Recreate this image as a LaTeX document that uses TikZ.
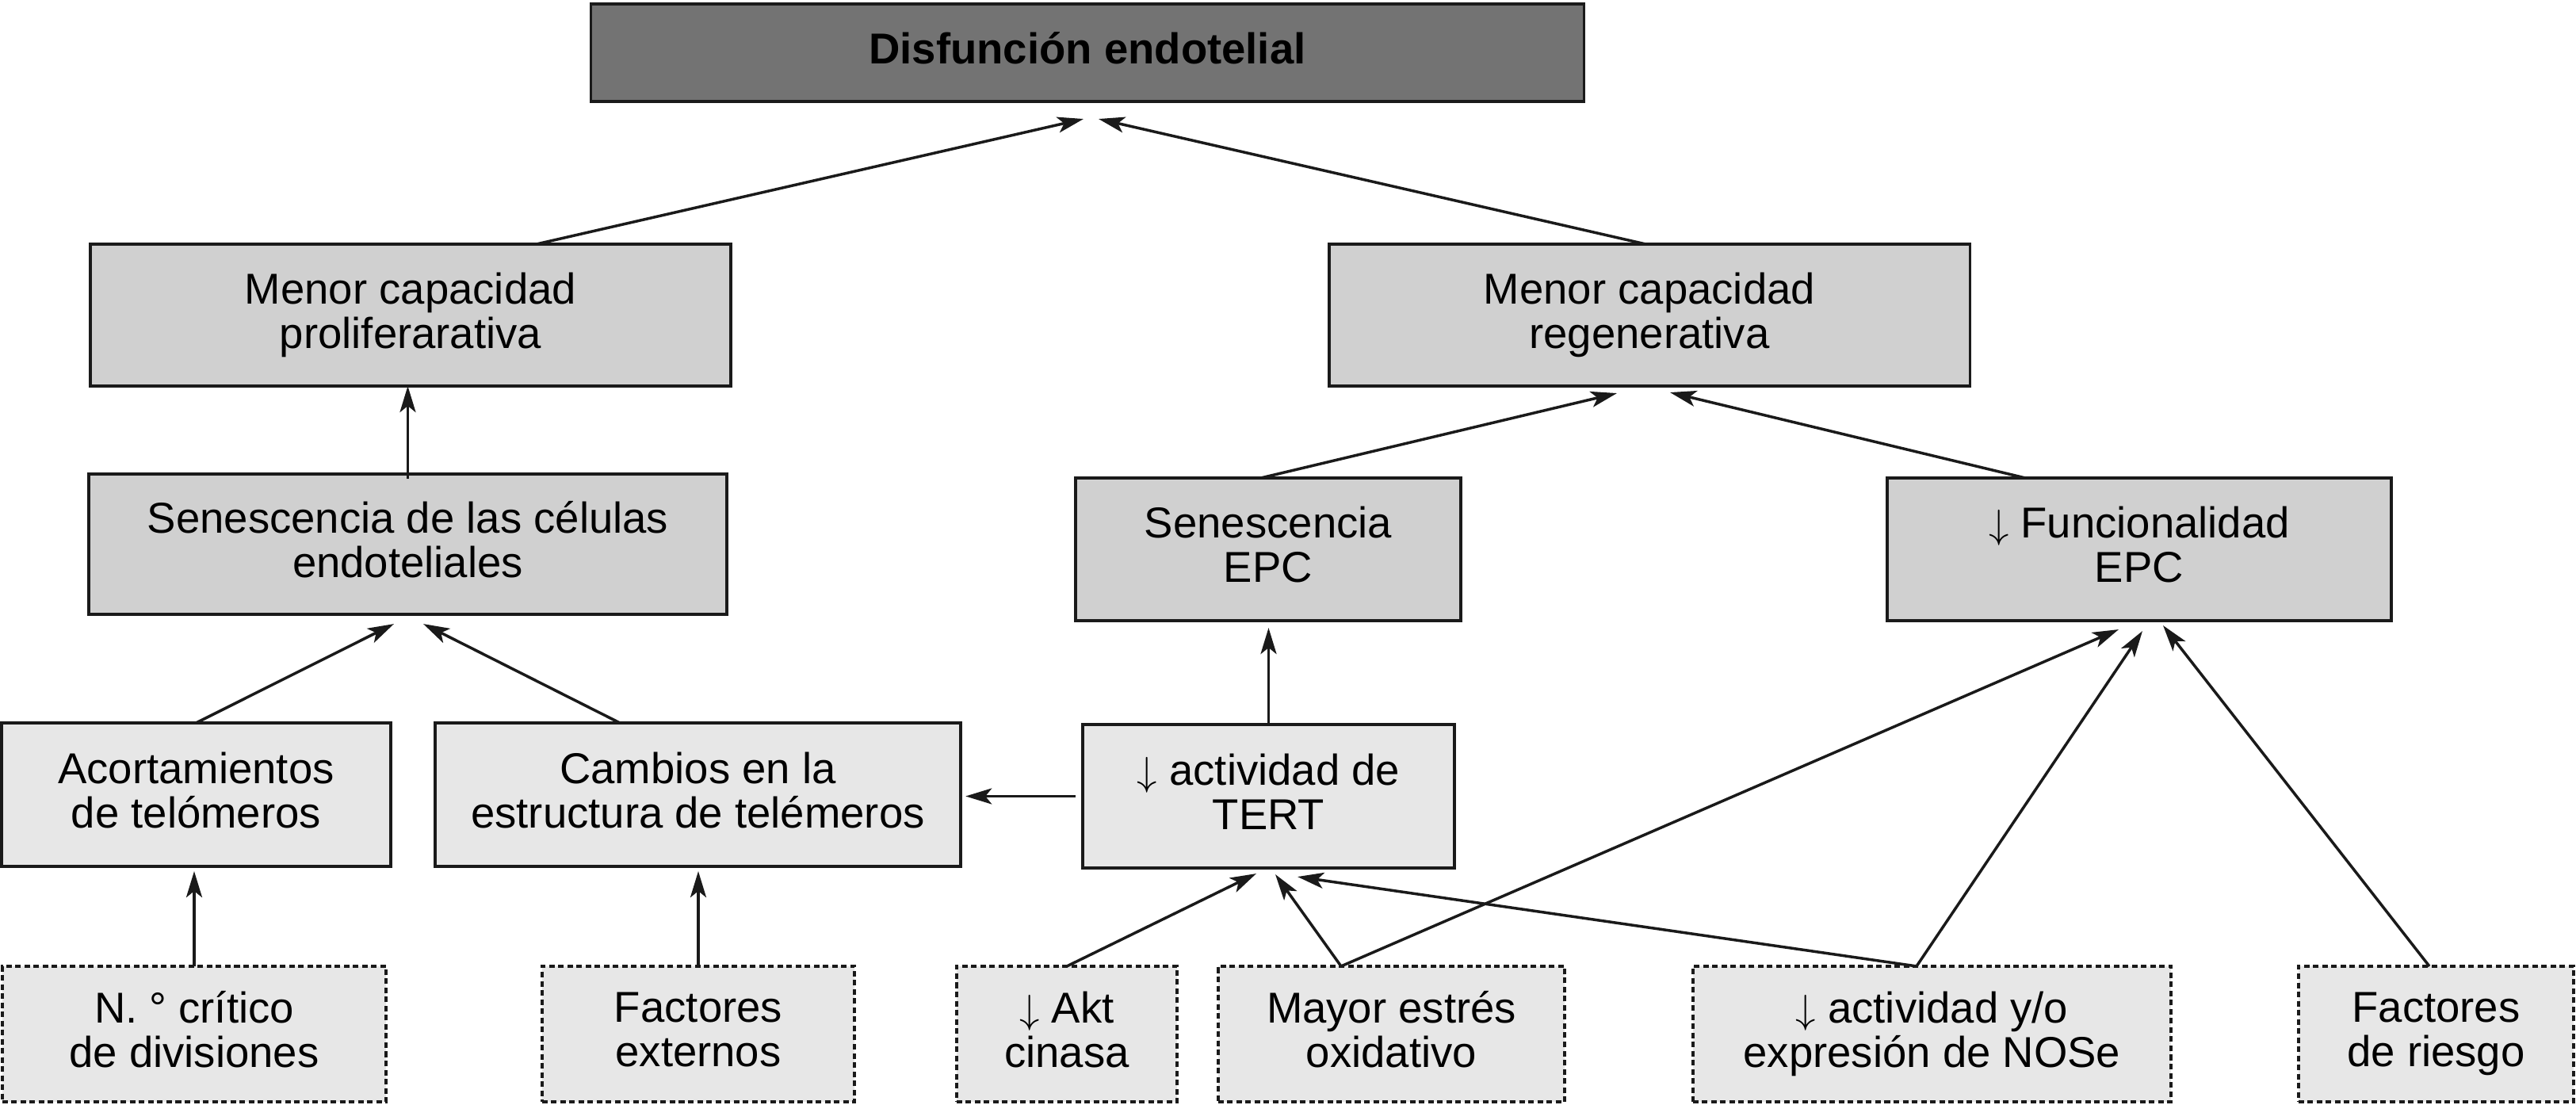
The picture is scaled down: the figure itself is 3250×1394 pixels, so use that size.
\documentclass[tikz,border=0pt]{standalone}
\usepackage{fontspec}
\setmainfont{Liberation Sans}
\usetikzlibrary{arrows.meta,calc}
\definecolor{cdark}{HTML}{737373}
\definecolor{cmid}{HTML}{D0D0D0}
\definecolor{clight}{HTML}{E7E7E7}
\definecolor{cline}{HTML}{1A1A1A}
\newcommand{\dnarr}{$\downarrow$}
\begin{document}
\begin{tikzpicture}[x=0.01cm,y=-0.01cm,
  box/.style={draw=cline, line width=0.035cm, inner sep=0pt, outer sep=0pt, align=center,
    font=\fontsize{15.5}{16}\selectfont, execute at end node={\rule[-0.22em]{0pt}{0pt}}},
  boxdark/.style={box, fill=cdark},
  boxmid/.style={box, fill=cmid},
  boxlight/.style={box, fill=clight},
  boxdash/.style={box, fill=clight, dash pattern=on 0.07cm off 0.045cm},
  arr/.style={draw=cline, line width=0.035cm, -{Stealth[length=0.33cm,width=0.2cm,inset=0.08cm]}}
]
\useasboundingbox (0,0) rectangle (3250,1394);

% level 0
\node[boxdark, minimum width=12.52cm, minimum height=1.23cm] (top) at (1372,66.5) {\textbf{Disfunción endotelial}};

% level 1
\node[boxmid, minimum width=8.08cm, minimum height=1.79cm] (prolif) at (518,397.5) {Menor capacidad\\proliferarativa};
\node[boxmid, minimum width=8.08cm, minimum height=1.79cm] (reg) at (2081,397.5) {Menor capacidad\\regenerativa};

% level 2
\node[boxmid, minimum width=8.05cm, minimum height=1.77cm] (sencel) at (514.5,686.5) {Senescencia de las células\\endoteliales};
\node[boxmid, minimum width=4.86cm, minimum height=1.80cm] (senepc) at (1600,693) {Senescencia\\EPC};
\node[boxmid, minimum width=6.36cm, minimum height=1.80cm] (func) at (2699,693) {\dnarr\ Funcionalidad\\EPC};

% level 3
\node[boxlight, minimum width=4.91cm, minimum height=1.81cm] (acort) at (247.5,1002.5) {Acortamientos\\de telómeros};
\node[boxlight, minimum width=6.63cm, minimum height=1.81cm] (cambios) at (880.5,1002.5) {Cambios en la\\estructura de telémeros};
\node[boxlight, minimum width=4.69cm, minimum height=1.81cm] (tert) at (1600.5,1004.5) {\dnarr\ actividad de\\TERT};

% level 4 (dashed)
\node[boxdash, minimum width=4.84cm, minimum height=1.71cm] (ncrit) at (245,1304.5) {N. ° crítico\\de divisiones};
\node[boxdash, minimum width=3.94cm, minimum height=1.71cm] (fext) at (881,1304.5) {Factores\\externos};
\node[boxdash, minimum width=2.78cm, minimum height=1.71cm] (akt) at (1346,1304.5) {\dnarr\ Akt\\cinasa};
\node[boxdash, minimum width=4.37cm, minimum height=1.71cm] (estres) at (1755.5,1304.5) {Mayor estrés\\oxidativo};
\node[boxdash, minimum width=6.03cm, minimum height=1.71cm] (nose) at (2437.5,1304.5) {\dnarr\ actividad y/o\\expresión de NOSe};
\node[boxdash, minimum width=3.47cm, minimum height=1.71cm] (riesgo) at (3073.5,1304.5) {Factores\\de riesgo};

% connectors to top
\draw[arr] ([xshift=1.59cm]prolif.north) -- ([xshift=-0.05cm,yshift=-0.22cm]top.south);
\draw[arr] ([xshift=-0.05cm]reg.north) -- ([xshift=0.14cm,yshift=-0.22cm]top.south);

% to prolif
\draw[arr] ([yshift=-0.06cm]sencel.north) -- (sencel.north |- prolif.south);

% to reg
\draw[arr] ([xshift=-0.09cm]senepc.north) -- ([xshift=-0.41cm,yshift=-0.09cm]reg.south);
\draw[arr] ([xshift=-1.44cm]func.north) -- ([xshift=0.26cm,yshift=-0.08cm]reg.south);

% to sencel
\draw[arr] (acort.north) -- ([xshift=-0.175cm,yshift=-0.12cm]sencel.south);
\draw[arr] ([xshift=-0.985cm]cambios.north) -- ([xshift=0.195cm,yshift=-0.12cm]sencel.south);

% to senepc
\draw[arr] (tert.north) -- ([yshift=-0.09cm]tert.north |- senepc.south);

% tert -> cambios
\draw[arr] ([xshift=-0.09cm]tert.west) -- ([xshift=0.06cm]tert.west -| cambios.east);

% bottom row to level 3
\draw[arr] (ncrit.north) -- ([yshift=-0.06cm]ncrit.north |- acort.south);
\draw[arr] (fext.north) -- ([yshift=-0.06cm]fext.north |- cambios.south);

% to tert
\draw[arr] (akt.north) -- ([xshift=-0.155cm,yshift=-0.07cm]tert.south);
\draw[arr] ([xshift=-0.635cm]estres.north) -- ([xshift=0.085cm,yshift=-0.08cm]tert.south);
\draw[arr] ([xshift=-0.195cm]nose.north) -- ([xshift=0.365cm,yshift=-0.11cm]tert.south);

% to func
\draw[arr] ([xshift=-0.635cm]estres.north) -- ([xshift=-0.26cm,yshift=-0.11cm]func.south);
\draw[arr] ([xshift=-0.195cm]nose.north) -- ([xshift=0.04cm,yshift=-0.13cm]func.south);
\draw[arr] ([xshift=-0.085cm]riesgo.north) -- ([xshift=0.30cm,yshift=-0.06cm]func.south);
\end{tikzpicture}
\end{document}
